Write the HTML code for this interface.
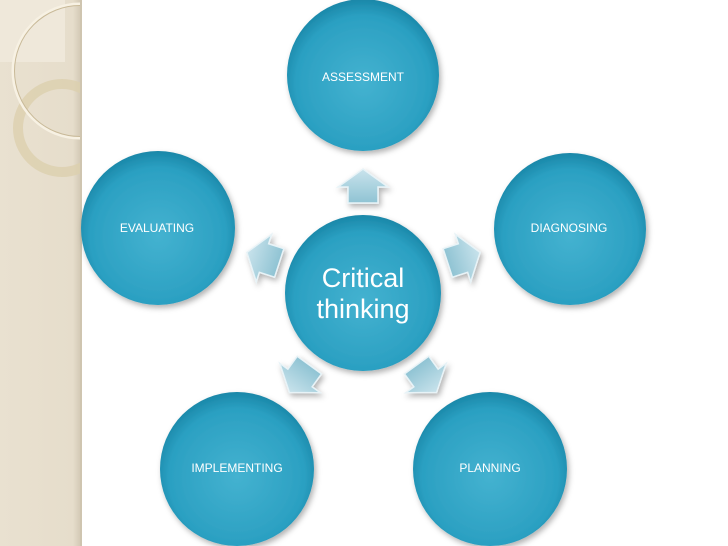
<!DOCTYPE html>
<html><head><style>
html,body{margin:0;padding:0;background:#fff;}
svg{display:block;}
text{font-family:"Liberation Sans",Arial,sans-serif;fill:#fff;}
</style></head><body>
<svg width="728" height="546" viewBox="0 0 728 546" xmlns="http://www.w3.org/2000/svg">
<defs>
<radialGradient id="cg" cx="50%" cy="55%" r="55%">
<stop offset="0" stop-color="#44b2d0"/>
<stop offset="0.8" stop-color="#2ba0c2"/>
<stop offset="1" stop-color="#1a87a8"/>
</radialGradient>
<linearGradient id="ag" x1="0" y1="0" x2="0" y2="1">
<stop offset="0" stop-color="#c9e3ec"/>
<stop offset="1" stop-color="#8fc3d3"/>
</linearGradient>
<linearGradient id="side" x1="0" y1="0" x2="1" y2="0">
<stop offset="0" stop-color="#e9e1d0"/>
<stop offset="0.9" stop-color="#e6ddcb"/>
<stop offset="1" stop-color="#d2c8b4"/>
</linearGradient>
<clipPath id="sc"><rect x="0" y="0" width="80" height="546"/></clipPath>
<filter id="sh" x="-20%" y="-20%" width="140%" height="140%">
<feDropShadow dx="2" dy="3" stdDeviation="3" flood-color="#000" flood-opacity="0.3"/>
</filter>
<g id="arr">
<path d="M0,-18 L25,0 L15,0 L15,16 L-15,16 L-15,0 L-25,0 Z" fill="url(#ag)" stroke="#e8f3f7" stroke-width="1.5"/>
</g>
</defs>
<rect x="0" y="0" width="81" height="546" fill="url(#side)"/>
<g clip-path="url(#sc)">
<rect x="0" y="0" width="65" height="62" fill="#efe8da"/>
<circle cx="62" cy="128" r="44" fill="none" stroke="#dccfae" stroke-width="10" opacity="0.8"/>
<circle cx="80" cy="71" r="67" fill="none" stroke="#f7f1e3" stroke-width="3"/>
<circle cx="80" cy="71" r="65.5" fill="none" stroke="#c8b998" stroke-width="1"/>
</g>
<rect x="80" y="0" width="2" height="546" fill="#cfc5b0"/>

<g filter="url(#sh)">
<circle cx="363" cy="75" r="76" fill="url(#cg)"/>
<circle cx="570" cy="229" r="76" fill="url(#cg)"/>
<circle cx="158" cy="228" r="77" fill="url(#cg)"/>
<circle cx="237" cy="469" r="77" fill="url(#cg)"/>
<circle cx="490" cy="469" r="77" fill="url(#cg)"/>
<circle cx="363" cy="293" r="78" fill="url(#cg)"/>
</g>
<g filter="url(#sh)">
<use href="#arr" transform="translate(363,187)"/>
<use href="#arr" transform="translate(463,258) rotate(72)"/>
<use href="#arr" transform="translate(426,378) rotate(144)"/>
<use href="#arr" transform="translate(300,378) rotate(216)"/>
<use href="#arr" transform="translate(264,258) rotate(288)"/>
</g>

<text x="363" y="81" font-size="12" text-anchor="middle">ASSESSMENT</text>
<text x="569" y="232" font-size="12" text-anchor="middle">DIAGNOSING</text>
<text x="157" y="232" font-size="12" text-anchor="middle">EVALUATING</text>
<text x="237" y="472" font-size="12" text-anchor="middle">IMPLEMENTING</text>
<text x="490" y="472" font-size="12" text-anchor="middle">PLANNING</text>
<text x="363" y="287" font-size="27" text-anchor="middle">Critical</text>
<text x="363" y="318" font-size="27" text-anchor="middle">thinking</text>
</svg>
</body></html>
